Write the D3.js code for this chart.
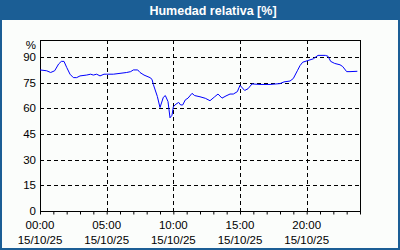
<!DOCTYPE html>
<html>
<head>
<meta charset="utf-8">
<title>Humedad relativa</title>
<script src="https://d3js.org/d3.v7.min.js"></script>
<style>
  body { margin: 0; background: #fff; }
  text { font-family: "Liberation Sans", Arial, sans-serif; }
</style>
</head>
<body>
<div id="chart"></div>
<script>
// hours since 00:00 and relative humidity [%]
var hours = [0, 0.5, 0.8, 1.1, 1.4, 1.6, 1.8, 2.0, 2.25, 2.5, 2.75, 3.0, 3.5, 3.8, 4.0, 4.25, 4.5, 4.8,
  5.0, 5.5, 6.0, 6.5, 6.8, 7.0, 7.33, 7.5, 7.8, 8.25, 8.4, 8.5, 8.8, 9.0, 9.25, 9.4, 9.6, 9.75, 9.9,
  10.0, 10.2, 10.4, 10.55, 10.7, 10.9, 11.1, 11.4, 11.6, 12.0, 12.4, 12.75, 13.1, 13.35, 13.65, 13.95,
  14.25, 14.5, 14.8, 15.0, 15.35, 15.6, 15.9, 16.5, 17.25, 18.0, 18.3, 18.75, 19.0, 19.3, 19.5, 19.7,
  20.1, 20.5, 20.85, 21.4, 21.6, 21.8, 22.1, 22.5, 22.7, 23.0, 23.25, 23.8];
var humidity = [82.5, 82, 81, 82, 86, 87.5, 87.5, 84, 80, 78, 78, 79, 79.5, 80, 79.5, 80, 79, 80,
  80, 80, 80.5, 81, 81.5, 82.5, 82.5, 81, 79.5, 78, 77, 74, 67, 60.5, 66.5, 67.5, 64, 54.5, 56,
  61, 62.5, 63.5, 62, 62, 65, 66, 68.8, 67.5, 66.8, 65.9, 64.5, 66.8, 68.4, 66, 67.3,
  68.4, 68.4, 69.8, 73.5, 70.5, 71.5, 74.3, 74, 74, 74.5, 75.5, 76, 77.5, 82, 85, 87,
  88, 89, 91, 91, 90.5, 87.5, 86.3, 85.5, 84.5, 81.5, 81.5, 81.7];

var yTicks = [0, 15, 30, 45, 60, 75, 90];
var xTicks = [0, 5, 10, 15, 20];
var xTimeLabels = ["00:00", "05:00", "10:00", "15:00", "20:00"];
var xDateLabels = ["15/10/25", "15/10/25", "15/10/25", "15/10/25", "15/10/25"];
var title = "Humedad relativa [%]";

var W = 400, H = 250;
var blue = "#1b5e95";
var svg = d3.select("#chart").append("svg").attr("width", W).attr("height", H);

// frame and title bar
svg.append("rect").attr("x", 0).attr("y", 0).attr("width", W).attr("height", H).attr("fill", blue);
svg.append("rect").attr("x", 2).attr("y", 20).attr("width", W - 4).attr("height", H - 22).attr("fill", "#fbfdfb");
svg.append("text").attr("x", 213).attr("y", 15).attr("text-anchor", "middle")
  .attr("fill", "#fff").attr("font-weight", "bold").attr("font-size", 12.5).text(title);

var pLeft = 40, pRight = 360, pTop = 40, pBottom = 211;
var x = d3.scaleLinear().domain([0, 24]).range([pLeft, pRight]);
var y = d3.scaleLinear().domain([0, 100]).range([pBottom, pTop]);

// grid
svg.append("g").selectAll("line").data(yTicks.filter(function(d) { return d > 0; })).enter().append("line")
  .attr("x1", pLeft).attr("x2", pRight)
  .attr("y1", function(d) { return Math.round(y(d)) + 0.5; })
  .attr("y2", function(d) { return Math.round(y(d)) + 0.5; })
  .attr("stroke", "#000").attr("stroke-dasharray", "4,3");
svg.append("g").selectAll("line").data(xTicks.filter(function(d) { return d > 0; })).enter().append("line")
  .attr("y1", pTop).attr("y2", pBottom)
  .attr("x1", function(d) { return Math.round(x(d)) + 0.5; })
  .attr("x2", function(d) { return Math.round(x(d)) + 0.5; })
  .attr("stroke", "#000").attr("stroke-dasharray", "4,3");

// plot box
svg.append("rect").attr("x", pLeft + 0.5).attr("y", pTop + 0.5)
  .attr("width", pRight - pLeft).attr("height", pBottom - pTop)
  .attr("fill", "none").attr("stroke", "#000");

// x axis with hourly ticks
var xAxis = svg.append("g").attr("transform", "translate(0," + (pBottom + 0.5) + ")")
  .call(d3.axisBottom(x).tickValues(d3.range(0, 25)).tickSize(3).tickFormat(""));
xAxis.select(".domain").remove();
xAxis.selectAll("line").attr("stroke", "#000");

var xl = svg.append("g").selectAll("g").data(xTicks).enter().append("g")
  .attr("transform", function(d) { return "translate(" + x(d) + ",0)"; });
xl.append("text").attr("y", 229).attr("text-anchor", "middle").attr("font-size", 11.5).attr("fill", "#000")
  .text(function(d, i) { return xTimeLabels[i]; });
xl.append("text").attr("y", 244).attr("text-anchor", "middle").attr("font-size", 11.5).attr("fill", "#000")
  .text(function(d, i) { return xDateLabels[i]; });

// y labels
svg.append("g").selectAll("text").data(yTicks).enter().append("text")
  .attr("x", 36).attr("y", function(d) { return y(d) + 4; })
  .attr("text-anchor", "end").attr("font-size", 11.5).attr("fill", "#000")
  .text(function(d) { return d; });
svg.append("text").attr("x", 36).attr("y", 49).attr("text-anchor", "end")
  .attr("font-size", 11.5).attr("fill", "#000").text("%");

// humidity line
var line = d3.line()
  .x(function(d, i) { return x(hours[i]); })
  .y(function(d) { return y(d); });
svg.append("path").datum(humidity).attr("d", line)
  .attr("fill", "none").attr("stroke", "#0000ff").attr("stroke-width", 1);
</script>
</body>
</html>
